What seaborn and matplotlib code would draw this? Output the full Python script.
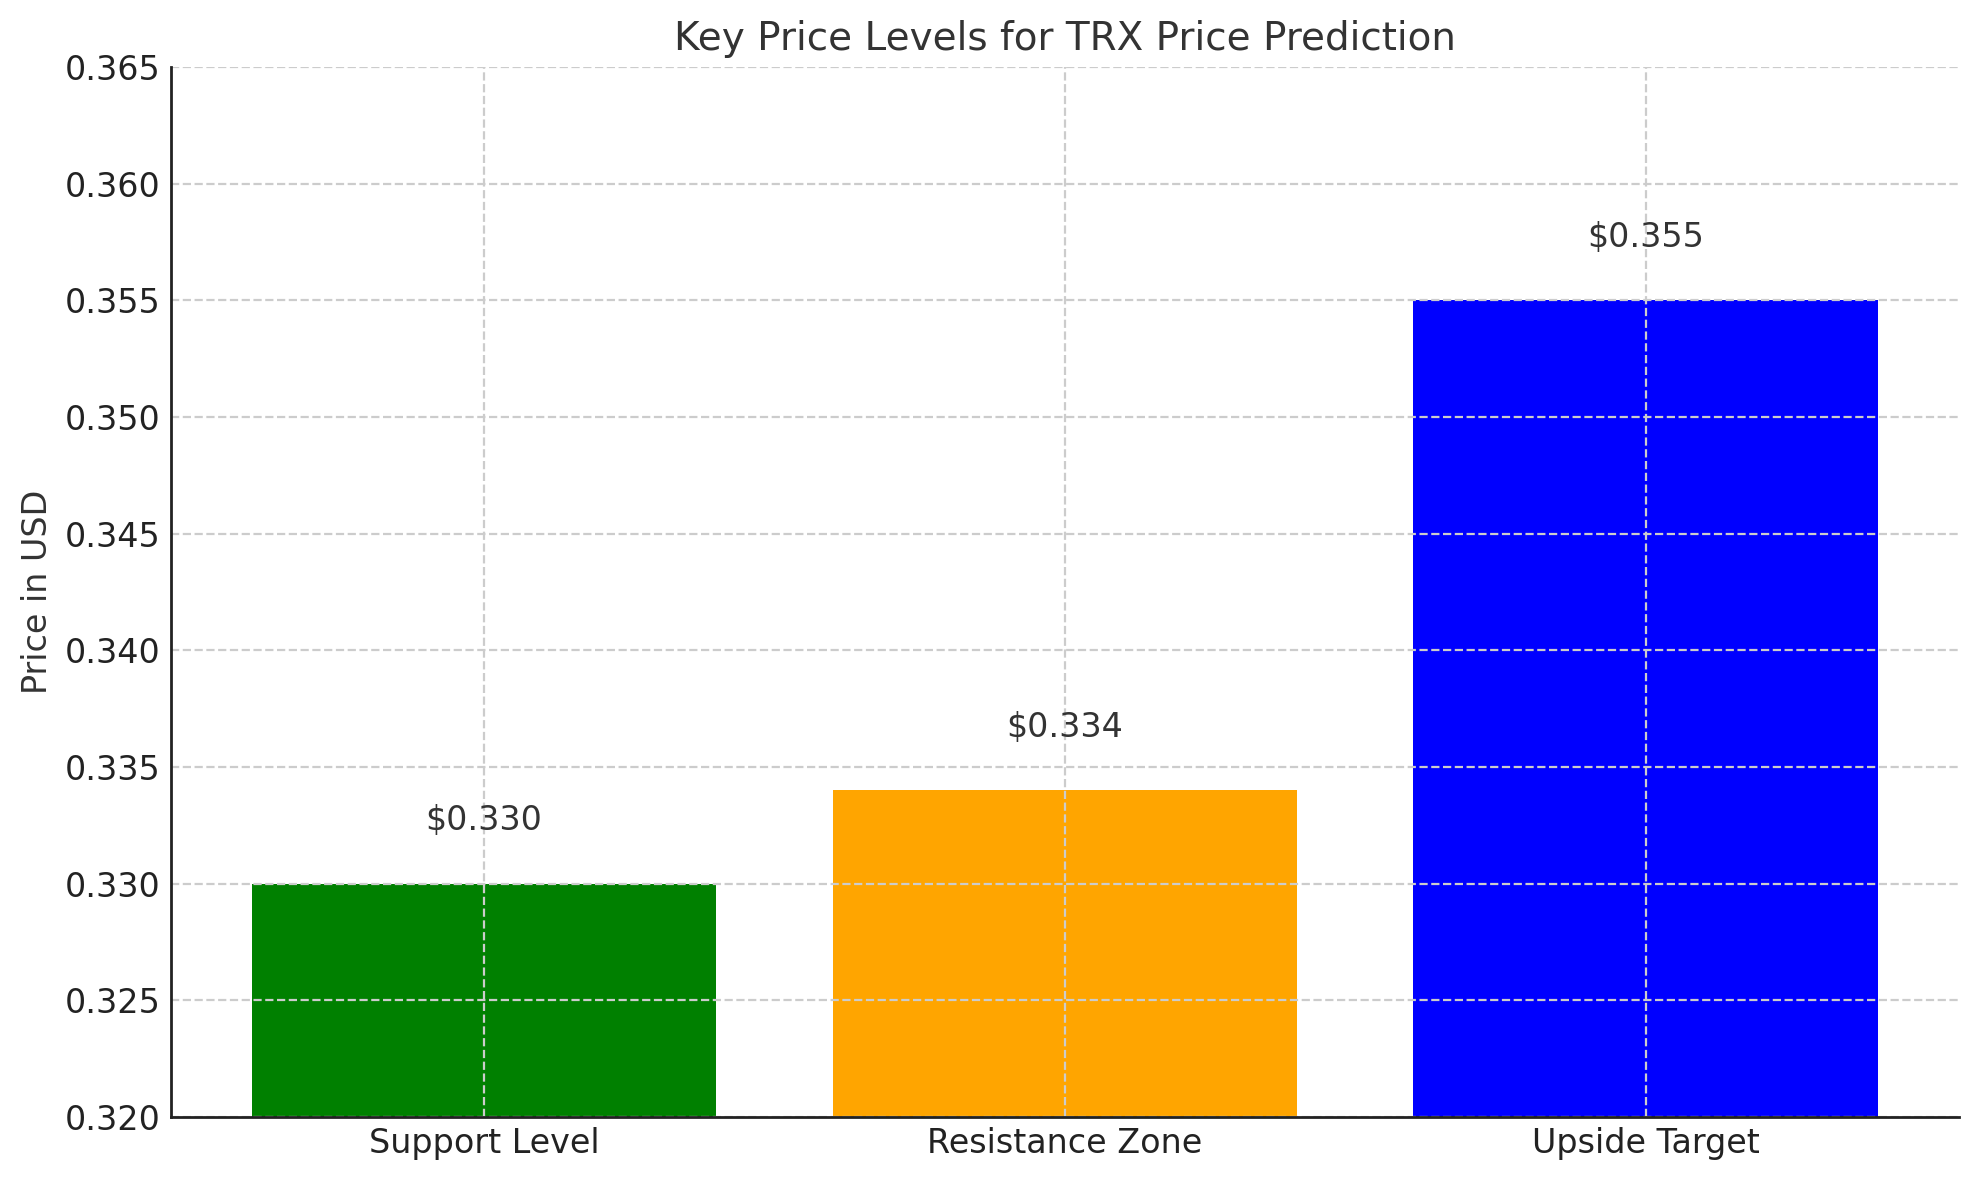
import matplotlib
matplotlib.use("Agg")
import matplotlib.pyplot as plt
import seaborn as sns
import pandas as pd

categories = ["Support Level", "Resistance Zone", "Upside Target"]
prices = [0.330, 0.334, 0.355]
bar_colors = ["green", "orange", "blue"]
y_ticks = [0.320, 0.325, 0.330, 0.335, 0.340, 0.345, 0.350, 0.355, 0.360, 0.365]

sns.set_style("white")
plt.rcParams["font.family"] = ["DejaVu Sans"]
text_color = "#333333"

df = pd.DataFrame({"Level": categories, "Price": prices})

fig = plt.figure(figsize=(9.895, 5.9), dpi=200)
ax = fig.add_axes([0.0862, 0.0534, 0.9038, 0.8898])

sns.barplot(data=df, x="Level", y="Price", hue="Level", palette=bar_colors,
            legend=False, width=0.8, saturation=1, ax=ax, zorder=1,
            linewidth=0, edgecolor="none")

ax.set_ylim(0.320, 0.365)
ax.set_xlim(-0.54, 2.54)
ax.set_yticks(y_ticks)
ax.set_yticklabels([f"{t:.3f}" for t in y_ticks])

for i, p in enumerate(prices):
    ax.text(i, p + 0.002, f"${p:.3f}", ha="center", va="bottom",
            fontsize=12, color=text_color)

ax.set_title("Key Price Levels for TRX Price Prediction", fontsize=14,
             color=text_color, pad=6)
ax.set_ylabel("Price in USD", fontsize=12, color=text_color)
ax.set_xlabel("")

ax.set_axisbelow(False)
ax.grid(True, linestyle="--", color="#cccccc", linewidth=0.8, zorder=3)

for s in ["top", "right"]:
    ax.spines[s].set_visible(False)
for s in ["left", "bottom"]:
    ax.spines[s].set_color("#222222")
    ax.spines[s].set_linewidth(1.0)
    ax.spines[s].set_zorder(5)

ax.tick_params(axis="both", direction="in", length=4, width=1,
               color="#222222", labelsize=12, labelcolor="#222222")

fig.savefig("out.png", dpi=200)
